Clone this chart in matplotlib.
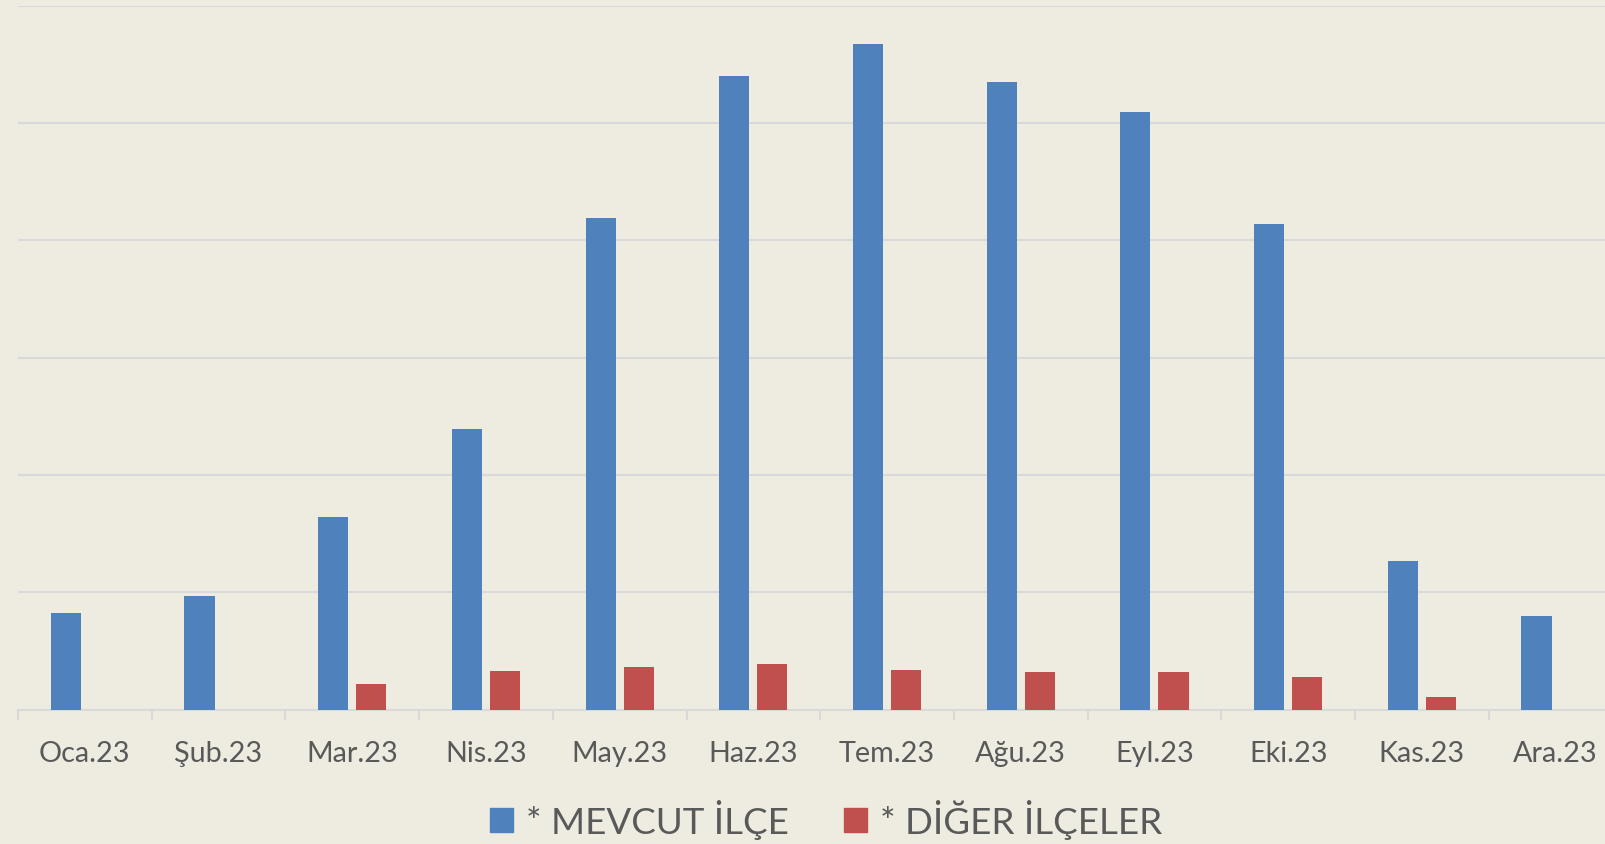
import numpy as np
import matplotlib
matplotlib.use("Agg")
from matplotlib import pyplot as plt
from matplotlib.patches import Patch

plt.rcParams['font.family'] = ['Lato', 'DejaVu Sans']

# data (1 unit = one gridline step)
months = ["Oca.23", "Şub.23", "Mar.23", "Nis.23", "May.23", "Haz.23",
          "Tem.23", "Ağu.23", "Eyl.23", "Eki.23", "Kas.23", "Ara.23"]
mevcut = [0.82, 0.97, 1.64, 2.39, 4.19, 5.40, 5.67, 5.35, 5.09, 4.14, 1.27, 0.80]
diger = [0, 0, 0.22, 0.33, 0.36, 0.39, 0.34, 0.32, 0.32, 0.28, 0.11, 0]

bg = "#EEECE1"
blue = "#4F81BD"
red = "#C0504D"
grid = "#D9D9D9"
txt = "#595959"

fig = plt.figure(figsize=(16.06, 8.45), dpi=100, facecolor=bg)
# plot area runs past the right edge, like the reference
ax = fig.add_axes([18 / 1606, 134.3 / 845, 1604.4 / 1606, 704.1 / 845])
ax.set_facecolor(bg)

x = np.arange(len(months))
w = 0.225
off = 0.1424
ax.bar(x - off, mevcut, w, color=blue, zorder=3)
ax.bar(x + off, diger, w, color=red, zorder=3)

ax.set_xlim(-0.5, len(months) - 0.5)
ax.set_ylim(0, 6)
ax.set_yticks(np.arange(0, 7, 1))
ax.yaxis.grid(True, color=grid, linewidth=1.5, zorder=0)
ax.tick_params(axis='y', left=False, labelleft=False)

ax.set_xticks(x)
ax.set_xticklabels(months, fontsize=20.7, color=txt)
ax.set_xticks(np.arange(-0.5, len(months), 1), minor=True)
ax.tick_params(axis='x', which='major', length=0, pad=21.5)
ax.tick_params(axis='x', which='minor', length=7.5, width=1.5, color=grid)

for s in ['top', 'right', 'left']:
    ax.spines[s].set_visible(False)
ax.spines['bottom'].set_color(grid)
ax.spines['bottom'].set_linewidth(1.5)

handles = [Patch(color=blue, label="* MEVCUT İLÇE"),
           Patch(color=red, label="* DİĞER İLÇELER")]
fs = 26.5
leg = fig.legend(handles=handles, loc='center', bbox_to_anchor=(826 / 1606, 25 / 845),
                 ncol=2, frameon=False, fontsize=fs,
                 handlelength=16.6 / fs, handleheight=16.6 / fs,
                 handletextpad=0.35, columnspacing=1.5, borderpad=0)
for t in leg.get_texts():
    t.set_color(txt)

fig.savefig("out.png", dpi=100, facecolor=bg)
